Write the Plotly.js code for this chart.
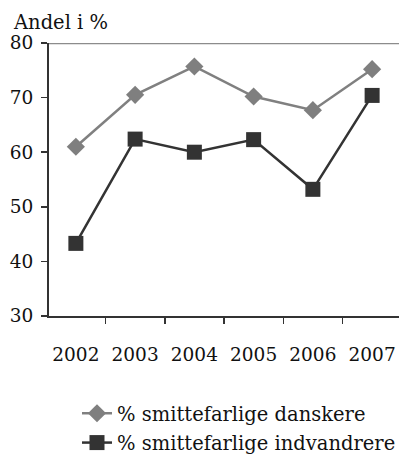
<!DOCTYPE html>
<html><head><meta charset="utf-8">
<script src="https://cdn.plot.ly/plotly-3.0.1.min.js"></script>
<style>html,body{margin:0;padding:0;background:#fff;overflow:hidden;}</style>
</head><body>
<div id="chart" style="width:401px;height:470px;"></div>
<script>
var years = ["2002","2003","2004","2005","2006","2007"];
var danskere = [61.0, 70.5, 75.7, 70.2, 67.7, 75.2];
var indvandrere = [43.3, 62.4, 60.0, 62.3, 53.2, 70.4];
var yTicks = [30, 40, 50, 60, 70, 80];
var nameDanskere = "% smittefarlige danskere";
var nameIndvandrere = "% smittefarlige indvandrere";

var fontFam = "DejaVu Serif, serif";
var traces = [
  {x: years, y: danskere, name: nameDanskere, type: "scatter", mode: "lines+markers",
   legendgroup: "a",
   line: {color: "#808080", width: 2.5},
   marker: {symbol: "diamond", size: 14, color: "#7f7f7f"}},
  {x: years, y: indvandrere, name: nameIndvandrere, type: "scatter", mode: "lines+markers",
   legendgroup: "b",
   line: {color: "#333333", width: 2.5},
   marker: {symbol: "square", size: 15, color: "#333333"}}
];
var layout = {
  width: 401, height: 470,
  margin: {l: 49, r: 0, t: 43, b: 154},
  paper_bgcolor: "#fff", plot_bgcolor: "#fff",
  font: {family: fontFam, size: 18.5, color: "#111"},
  showlegend: true,
  legend: {x: 0.08, xanchor: "left", y: -0.535, yanchor: "bottom",
           traceorder: "grouped", tracegroupgap: 1,
           font: {family: fontFam, size: 19.5, color: "#111"}},
  xaxis: {type: "category", tickson: "boundaries", ticks: "outside", ticklen: 6,
          tickcolor: "#333", tickwidth: 1.5, showline: true, linecolor: "#333", linewidth: 2,
          showgrid: false, zeroline: false, ticklabelstandoff: 21, fixedrange: true},
  yaxis: {range: [30, 80], tickvals: yTicks, ticks: "outside", ticklen: 6,
          tickcolor: "#333", tickwidth: 1.5, showline: true, linecolor: "#333", linewidth: 2,
          showgrid: false, zeroline: false, ticklabelstandoff: 4, fixedrange: true},
  shapes: [{type: "line", xref: "paper", yref: "y", x0: 0, x1: 1, y0: 80, y1: 80,
            line: {color: "#8c8c8c", width: 2.5}}],
  annotations: [{text: "Andel i %", xref: "paper", yref: "paper", x: -0.11, y: 1.0,
                 xanchor: "left", yanchor: "bottom", yshift: 7, showarrow: false,
                 font: {family: fontFam, size: 19.5, color: "#111"}}]
};
Plotly.newPlot("chart", traces, layout, {displayModeBar: false, staticPlot: true});
</script>
</body></html>
